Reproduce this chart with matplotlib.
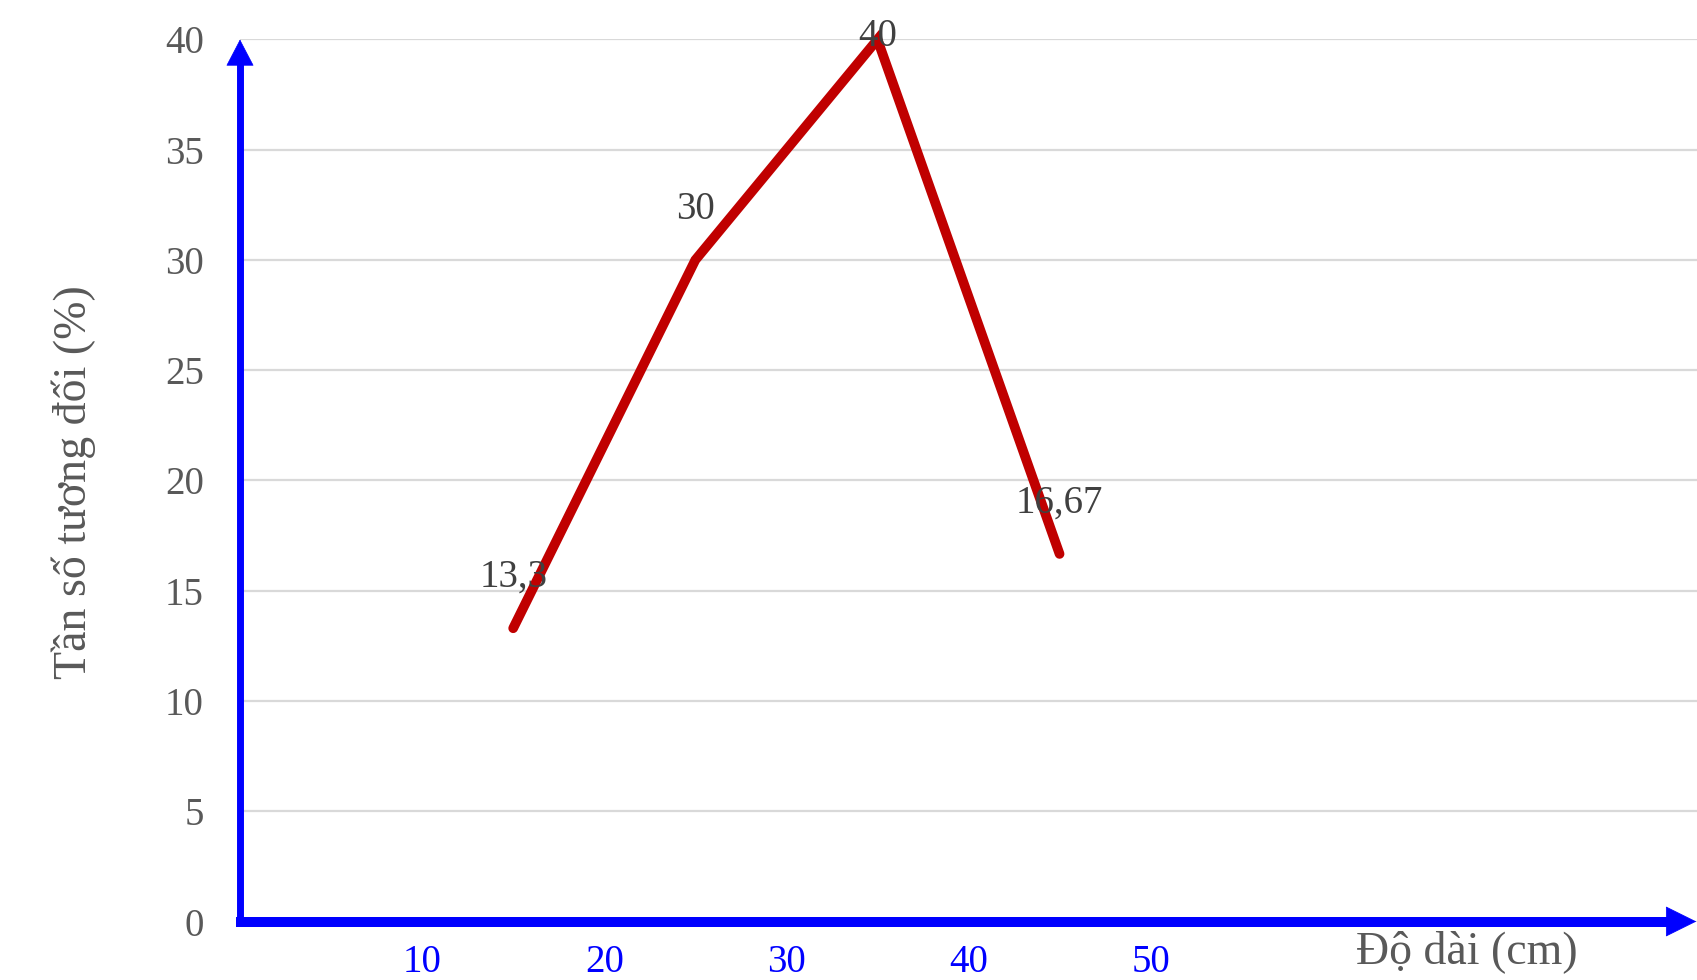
import matplotlib
matplotlib.use("Agg")
import matplotlib.pyplot as plt
from matplotlib.lines import Line2D

# ---- data ----
lengths = [15, 25, 35, 45]                 # class midpoints (cm)
rel_freq = [13.3, 30, 40, 16.67]           # relative frequency (%)
value_labels = ["13,3", "30", "40", "16,67"]
x_ticks = [10, 20, 30, 40, 50]
x_ticklabels = ["10", "20", "30", "40", "50"]
y_ticks = [0, 5, 10, 15, 20, 25, 30, 35, 40]
y_label = "Tần số tương đối (%)"
x_label = "Độ dài (cm)"

plt.rcParams['font.family'] = ['Liberation Serif', 'DejaVu Serif']

W, H = 1697, 980
fig = plt.figure(figsize=(W / 100, H / 100), dpi=100)
left_px, right_px, top_px, bot_px = 240, 1697, 39.5, 921.5
ax = fig.add_axes([left_px / W, 1 - bot_px / H, (right_px - left_px) / W, (bot_px - top_px) / H])

ax.set_xlim(0, 80)
ax.set_ylim(0, 40)

for s in ax.spines.values():
    s.set_visible(False)

ax.set_yticks(y_ticks)
ax.set_yticklabels([str(v) for v in y_ticks])
ax.set_xticks(x_ticks)
ax.set_xticklabels(x_ticklabels)
ax.tick_params(axis='y', length=0, pad=26, labelsize=28, labelcolor='#595959')
ax.tick_params(axis='x', length=0, pad=16.5, labelsize=28, labelcolor='#0000FF')

ax.yaxis.grid(True, color='#d9d9d9', lw=1.6)
ax.set_axisbelow(True)

# data line
ax.plot(lengths, rel_freq, color='#C00000', lw=7, solid_capstyle='round',
        solid_joinstyle='miter', zorder=3, clip_on=False)

ymax = ax.get_ylim()[1]
for x, y, lab in zip(lengths, rel_freq, value_labels):
    off = 2 if y >= ymax else 36.5
    ax.annotate(lab, (x, y), xytext=(0, off), textcoords='offset points',
                ha='center', va='center', fontsize=28, color='#404040', zorder=4)

# axes with arrows
blue = '#0000FF'
ax.add_line(Line2D([0, 0], [-0.0025, 0.972], transform=ax.transAxes, color=blue,
                   lw=5, solid_capstyle='butt', clip_on=False, zorder=5))
ax.add_line(Line2D([-0.0025, 0.98], [0, 0], transform=ax.transAxes, color=blue,
                   lw=7.2, solid_capstyle='butt', clip_on=False, zorder=5))
ax.annotate('', xy=(0, 1.0), xytext=(0, 0.95), xycoords='axes fraction',
            arrowprops=dict(arrowstyle='-|>,head_length=0.9,head_width=0.47',
                            mutation_scale=20, color=blue, lw=0.5,
                            shrinkA=0, shrinkB=0), zorder=6, annotation_clip=False)
ax.annotate('', xy=(0.9995, 0), xytext=(0.96, 0), xycoords='axes fraction',
            arrowprops=dict(arrowstyle='-|>,head_length=1.05,head_width=0.52',
                            mutation_scale=20, color=blue, lw=0.5,
                            shrinkA=0, shrinkB=0), zorder=6, annotation_clip=False)

fig.text(74 / W, 1 - 482 / H, y_label, rotation=90, ha='center', va='center',
         fontsize=33, color='#595959')
fig.text(1467 / W, 1 - 952 / H, x_label, ha='center', va='center',
         fontsize=33, color='#595959')

fig.savefig('out.png', dpi=100, facecolor='white')
